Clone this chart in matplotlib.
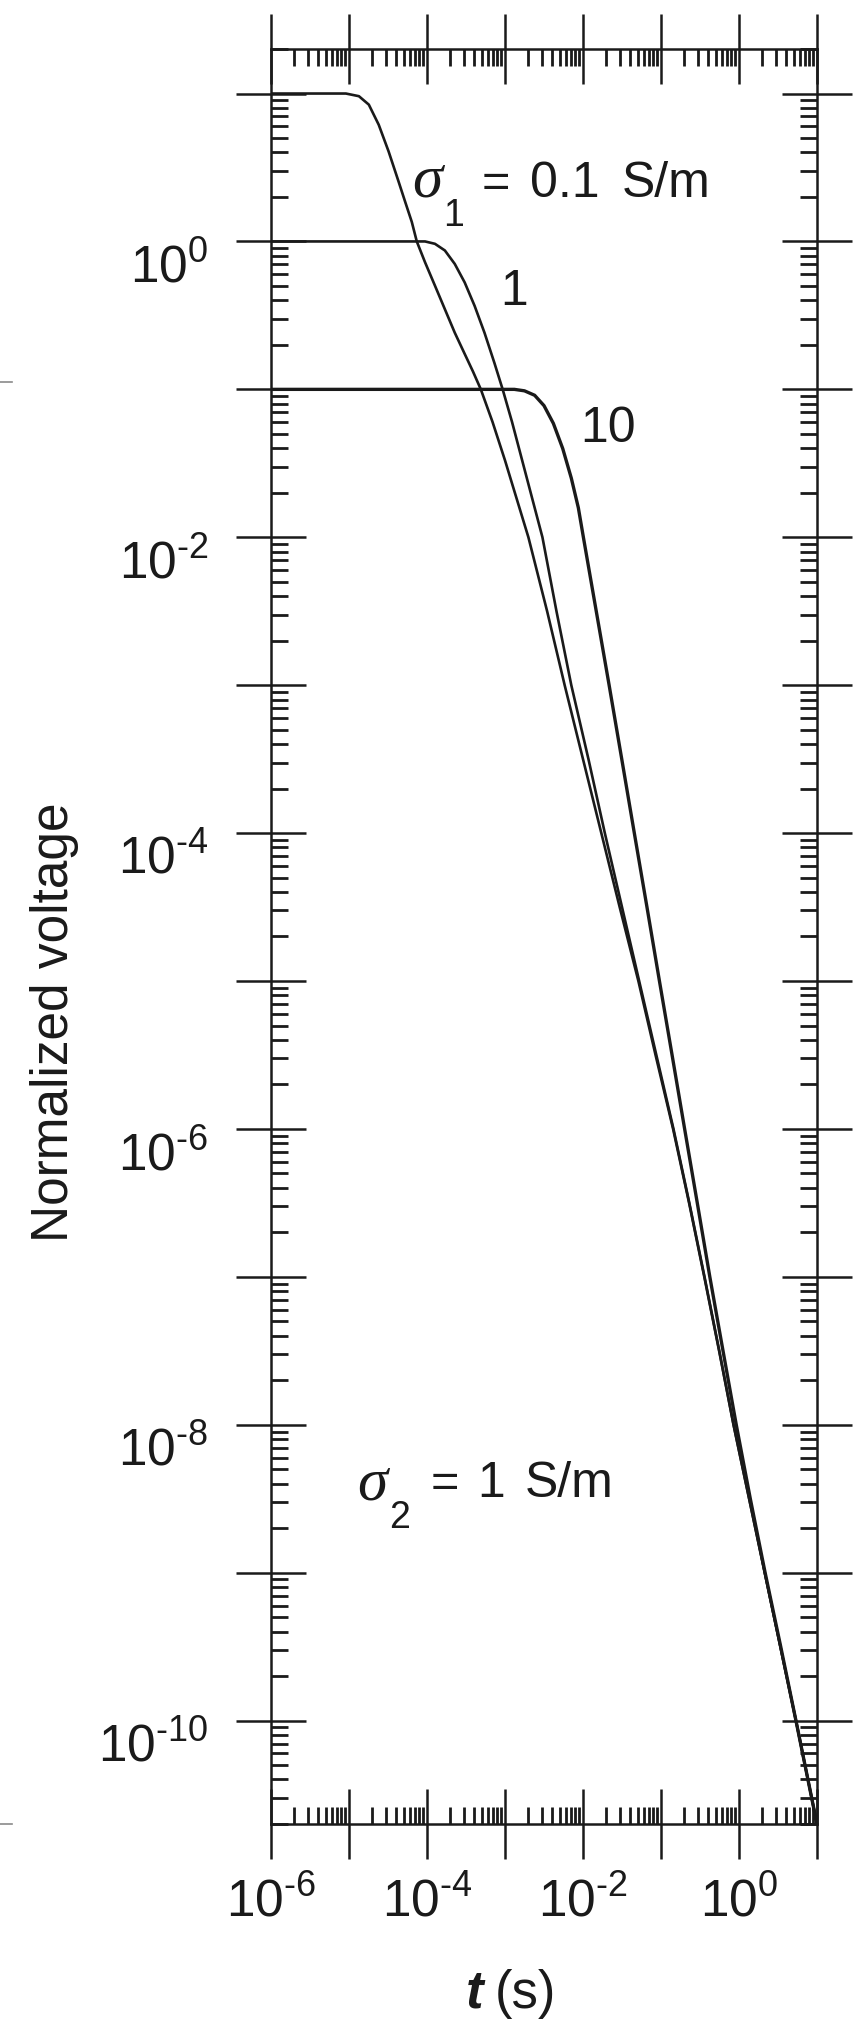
# TEM decay curves over a two-layer earth, log-log
import numpy as np
import matplotlib
matplotlib.use("Agg")
import matplotlib.pyplot as plt
from matplotlib import transforms
from matplotlib.lines import Line2D
from matplotlib.ticker import LogLocator, NullFormatter

# values, as decades: log10(t in s) and log10(voltage)
# sigma1 = 0.1 S/m
logt_01 = [-6.0, -5.04, -4.873, -4.746, -4.619, -4.492, -4.364, -4.28, -4.195, -4.131,
           -4.025, -3.898, -3.771, -3.644, -3.517, -3.41, -3.31, -3.16, -3.0, -2.85,
           -2.70, -2.46, -2.235, -2.0, -1.765, -1.53, -1.29, -1.07, -0.845, -0.64,
           -0.445, -0.255, -0.07, 0.13, 0.33, 0.53, 0.73, 1.0]
logv_01 = [1.0, 1.0, 0.982, 0.925, 0.789, 0.608, 0.404, 0.268, 0.132, 0.0,
           -0.141, -0.299, -0.458, -0.617, -0.76, -0.88, -1.0, -1.22, -1.48, -1.74,
           -2.0, -2.5, -3.0, -3.5, -4.0, -4.5, -5.0, -5.5, -6.0, -6.5,
           -7.0, -7.5, -8.0, -8.5, -9.0, -9.5, -10.0, -10.7]
# sigma1 = 1 S/m
logt_1 = [-6.0, -4.025, -3.898, -3.771, -3.644, -3.517, -3.39, -3.263, -3.136, -3.03,
          -2.91, -2.78, -2.65, -2.52, -2.34, -2.15, -1.93, -1.72, -1.50, -1.28, -1.06,
          -0.84, -0.637, -0.442, -0.253, -0.07, 0.13, 0.33, 0.53, 0.73, 1.0]
logv_1 = [0.0, 0.0, -0.016, -0.061, -0.152, -0.277, -0.435, -0.617, -0.821, -1.0,
          -1.22, -1.48, -1.74, -2.0, -2.5, -3.0, -3.5, -4.0, -4.5, -5.0, -5.5,
          -6.0, -6.5, -7.0, -7.5, -8.0, -8.5, -9.0, -9.5, -10.0, -10.7]
# sigma1 = 10 S/m
logt_10 = [-6.0, -2.88, -2.75, -2.62, -2.50, -2.38, -2.26, -2.15, -2.06, -1.995, -1.83,
           -1.665, -1.503, -1.342, -1.18, -1.02, -0.858, -0.697, -0.535, -0.374, -0.205,
           -0.035, 0.145, 0.335, 0.535, 0.73, 1.0]
logv_10 = [-1.0, -1.0, -1.01, -1.04, -1.11, -1.23, -1.40, -1.60, -1.80, -2.0, -2.5,
           -3.0, -3.5, -4.0, -4.5, -5.0, -5.5, -6.0, -6.5, -7.0, -7.5,
           -8.0, -8.5, -9.0, -9.5, -10.0, -10.7]

HY = '\u2010'  # short hyphen, as in the printed superscripts
x_ticks = [1e-6, 1e-5, 1e-4, 1e-3, 1e-2, 1e-1, 1e0, 1e1]
x_labels = ['$10^{%s6}$' % HY, '', '$10^{%s4}$' % HY, '', '$10^{%s2}$' % HY, '',
            '$10^{0}$', '']
y_ticks = [1e-10, 1e-9, 1e-8, 1e-7, 1e-6, 1e-5, 1e-4, 1e-3, 1e-2, 1e-1, 1e0, 1e1]
y_labels = ['$10^{%s10}$' % HY, '', '$10^{%s8}$' % HY, '', '$10^{%s6}$' % HY, '',
            '$10^{%s4}$' % HY, '', '$10^{%s2}$' % HY, '', '$10^{0}$', '']

plt.rcParams['font.family'] = ['Liberation Sans', 'DejaVu Sans']
plt.rcParams['mathtext.fontset'] = 'custom'
plt.rcParams['mathtext.rm'] = 'Liberation Sans'
plt.rcParams['mathtext.it'] = 'Liberation Sans:italic'
plt.rcParams['mathtext.bf'] = 'Liberation Sans:bold'

W, H = 861, 2024
ink = '#1a1a1a'


def fx(px):
    return px / W


def fy(py):
    return 1 - py / H


fig = plt.figure(figsize=(W / 100, H / 100), dpi=100)
ax = fig.add_axes([fx(271), fy(1825), 546 / W, 1775 / H])

ax.plot(10 ** np.array(logt_01), 10 ** np.array(logv_01), color=ink, lw=1.9)
ax.plot(10 ** np.array(logt_1), 10 ** np.array(logv_1), color=ink, lw=1.9)
ax.plot(10 ** np.array(logt_10), 10 ** np.array(logv_10), color=ink, lw=2.4)

ax.set_xscale('log')
ax.set_yscale('log')
ax.set_xlim(1e-6, 10)
ax.set_ylim(2e-11, 20)

for s in ax.spines.values():
    s.set_linewidth(1.8)
    s.set_color(ink)

ax.xaxis.set_minor_locator(LogLocator(base=10, subs=np.arange(2, 10), numticks=50))
ax.yaxis.set_minor_locator(LogLocator(base=10, subs=np.arange(2, 10), numticks=50))
ax.xaxis.set_minor_formatter(NullFormatter())
ax.yaxis.set_minor_formatter(NullFormatter())
ax.set_xticks(x_ticks, x_labels)
ax.set_yticks(y_ticks, y_labels)

ax.tick_params(which='major', direction='inout', length=50, width=1.8, color=ink,
               top=True, right=True, labelsize=37, labelcolor=ink)
ax.tick_params(axis='x', which='major', pad=41)
ax.tick_params(axis='y', which='major', pad=20)
ax.tick_params(which='minor', direction='in', length=12, width=2.0, color=ink,
               top=True, right=True)

# digits of the y labels hang below their tick
shift = transforms.ScaledTranslation(0, -40 / 100, fig.dpi_scale_trans)
for lab in ax.get_yticklabels():
    lab.set_va('baseline')
    lab.set_transform(lab.get_transform() + shift)
for lab in ax.get_xticklabels():
    lab.set_va('baseline')

# annotations
fig.text(fx(412), fy(197), 'σ', fontsize=44, family='Liberation Serif', style='italic',
         color=ink, va='baseline')
fig.text(fx(443), fy(226), '1', fontsize=27, color=ink, va='baseline')
fig.text(fx(482), fy(197), '=', fontsize=35, color=ink, va='baseline')
fig.text(fx(530), fy(197), '0.1', fontsize=36, color=ink, va='baseline')
fig.text(fx(622), fy(197), 'S/m', fontsize=36, color=ink, va='baseline')

fig.text(fx(500), fy(305), '1', fontsize=36, color=ink, va='baseline')
fig.text(fx(580), fy(442), '10', fontsize=36, color=ink, va='baseline')

fig.text(fx(357), fy(1500), 'σ', fontsize=44, family='Liberation Serif', style='italic',
         color=ink, va='baseline')
fig.text(fx(389), fy(1528), '2', fontsize=27, color=ink, va='baseline')
fig.text(fx(431), fy(1497), '=', fontsize=35, color=ink, va='baseline')
fig.text(fx(477), fy(1497), '1', fontsize=36, color=ink, va='baseline')
fig.text(fx(525), fy(1497), 'S/m', fontsize=36, color=ink, va='baseline')

fig.text(fx(55), fy(1022), 'Normalized voltage', fontsize=37, rotation=90,
         color=ink, ha='center', va='center')
fig.text(fx(466), fy(2008), 't', fontsize=38, style='italic', weight='bold',
         color=ink, va='baseline')
fig.text(fx(495), fy(2008), '(s)', fontsize=38, color=ink, va='baseline')

# small crop marks on the left edge
for py in (383, 1825):
    fig.add_artist(Line2D([0, fx(12)], [fy(py), fy(py)], transform=fig.transFigure,
                          color='#8a8a8a', lw=1.2))

fig.savefig('out.png', dpi=100, facecolor='white')
